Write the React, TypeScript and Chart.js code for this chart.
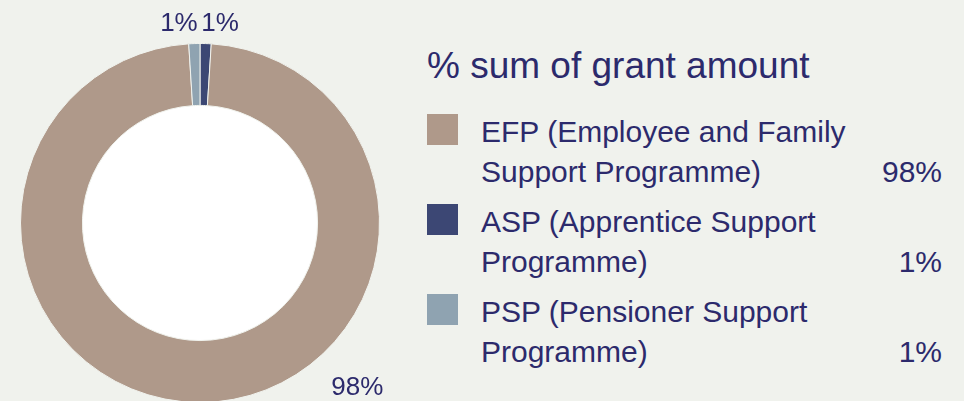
import React, { useEffect, useRef } from "react";
import { Chart, registerables } from "chart.js";

Chart.register(...registerables);

// Legend order
const categories = ["EFP", "ASP", "PSP"];
const labelLines = [
  ["EFP (Employee and Family", "Support Programme)"],
  ["ASP (Apprentice Support", "Programme)"],
  ["PSP (Pensioner Support", "Programme)"],
];
const values = [98, 1, 1];
const percentLabels = ["98%", "1%", "1%"];
const colors = ["#af998a", "#3c4774", "#8fa3b1"];
// Clockwise order around the ring, starting at 12 o'clock
const ringOrder = [1, 0, 2];
const title = "% sum of grant amount";

const BG = "#f0f2ed";
const TEXT = "#2c2a6c";
const FONT = "'Liberation Sans', Arial, sans-serif";

const ringLabelPlugin = {
  id: "ringLabels",
  beforeDatasetsDraw(chart: any) {
    const meta = chart.getDatasetMeta(0);
    const arc = meta.data[0];
    if (!arc) return;
    const { ctx } = chart;
    ctx.save();
    ctx.fillStyle = "#ffffff";
    ctx.beginPath();
    ctx.arc(arc.x, arc.y, arc.innerRadius, 0, Math.PI * 2);
    ctx.fill();
    ctx.restore();
  },
  afterDatasetsDraw(chart: any) {
    const meta = chart.getDatasetMeta(0);
    const { ctx } = chart;
    const texts: string[] = chart.data.datasets[0].pctLabels;
    ctx.save();
    ctx.fillStyle = TEXT;
    ctx.font = `26px ${FONT}`;
    meta.data.forEach((a: any, i: number) => {
      const sweep = a.endAngle - a.startAngle;
      const big = sweep > Math.PI;
      const ang = big ? a.startAngle + sweep * 0.376 : (a.startAngle + a.endAngle) / 2;
      const r = a.outerRadius + (big ? 48 : 20);
      const x = a.x + Math.cos(ang) * r;
      const y = a.y + Math.sin(ang) * r;
      ctx.textBaseline = "middle";
      if (big) {
        ctx.textAlign = "center";
        ctx.fillText(texts[i], x, y);
      } else if (x >= a.x) {
        ctx.textAlign = "left";
        ctx.fillText(texts[i], x - 5, y);
      } else {
        ctx.textAlign = "right";
        ctx.fillText(texts[i], x + 4, y);
      }
    });
    ctx.restore();
  },
};

export default function App() {
  const canvasRef = useRef<HTMLCanvasElement | null>(null);

  useEffect(() => {
    if (!canvasRef.current) return;
    const chart = new Chart(canvasRef.current, {
      type: "doughnut",
      data: {
        labels: ringOrder.map((i) => categories[i]),
        datasets: [
          {
            data: ringOrder.map((i) => values[i]),
            backgroundColor: ringOrder.map((i) => colors[i]),
            borderColor: BG,
            borderWidth: 1,
            pctLabels: ringOrder.map((i) => percentLabels[i]),
          } as any,
        ],
      },
      options: {
        responsive: false,
        animation: false,
        cutout: "65.5%",
        layout: { padding: { left: 20, right: 20, top: 43, bottom: 7 } },
        plugins: {
          legend: { display: false },
          tooltip: { enabled: false },
        },
      },
      plugins: [ringLabelPlugin],
    });
    return () => chart.destroy();
  }, []);

  return (
    <div
      style={{
        position: "absolute",
        left: 0,
        top: 0,
        width: 964,
        height: 401,
        overflow: "hidden",
        background: BG,
        fontFamily: FONT,
        color: TEXT,
      }}
    >
      <canvas
        ref={canvasRef}
        width={400}
        height={410}
        style={{ position: "absolute", left: 0, top: 0, width: 400, height: 410 }}
      />
      <div
        style={{
          position: "absolute",
          left: 427,
          top: 46,
          fontSize: 37,
          lineHeight: "40px",
          whiteSpace: "nowrap",
        }}
      >
        {title}
      </div>
      {categories.map((c, i) => (
        <div key={c}>
          <div
            style={{
              position: "absolute",
              left: 427,
              top: 114 + i * 90,
              width: 31,
              height: 31,
              background: colors[i],
            }}
          />
          <div
            style={{
              position: "absolute",
              left: 481,
              top: 112 + i * 90,
              fontSize: 30,
              lineHeight: "40px",
              whiteSpace: "nowrap",
            }}
          >
            {labelLines[i].map((l, k) => (
              <div key={k}>{l}</div>
            ))}
          </div>
          <div
            style={{
              position: "absolute",
              right: 964 - 942,
              top: 152 + i * 90,
              fontSize: 30,
              lineHeight: "40px",
              whiteSpace: "nowrap",
            }}
          >
            {percentLabels[i]}
          </div>
        </div>
      ))}
    </div>
  );
}
